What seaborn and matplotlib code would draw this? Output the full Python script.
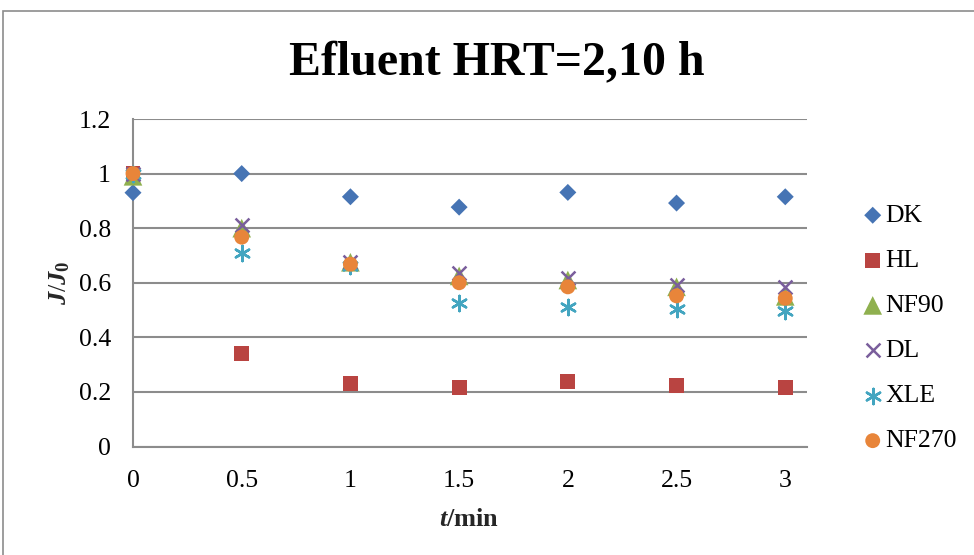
import matplotlib
matplotlib.use("Agg")
import matplotlib.pyplot as plt
import seaborn as sns
import pandas as pd
from matplotlib.patches import Rectangle

sns.set_theme(style="white")
plt.rcParams['font.family'] = ['Liberation Serif', 'DejaVu Serif']
plt.rcParams['text.color'] = 'black'
plt.rcParams['mathtext.fontset'] = 'custom'
plt.rcParams['mathtext.rm'] = 'Liberation Serif'
plt.rcParams['mathtext.it'] = 'Liberation Serif:italic'
plt.rcParams['mathtext.bf'] = 'Liberation Serif:bold'
plt.rcParams['mathtext.bfit'] = 'Liberation Serif:bold:italic'

t = [0, 0.5, 1, 1.5, 2, 2.5, 3]
series_names = ["DK", "HL", "NF90", "DL", "XLE", "NF270"]
DK = [0.93, 1.00, 0.915, 0.877, 0.931, 0.892, 0.915]
HL = [1.00, 0.34, 0.23, 0.215, 0.239, 0.223, 0.215]
NF90 = [0.99, 0.80, 0.675, 0.625, 0.61, 0.585, 0.55]
DL = [1.00, 0.81, 0.675, 0.635, 0.618, 0.59, 0.583]
XLE = [1.00, 0.708, 0.66, 0.527, 0.512, 0.502, 0.497]
NF270 = [1.00, 0.767, 0.668, 0.60, 0.585, 0.552, 0.543]
values = [DK, HL, NF90, DL, XLE, NF270]

colors = ["#4674B4", "#B94441", "#8FB04F", "#7A5E9C", "#43A5C0", "#E8853A"]
markers = ["D", "s", "^", "x", (6, 2, 0), "o"]
sizes = [75, 115, 180, 100, 120, 115]

rows = []
for name, vals in zip(series_names, values):
    for x, y in zip(t, vals):
        rows.append({"t": x, "J": y, "series": name})
df = pd.DataFrame(rows)

fig = plt.figure(figsize=(9.74, 5.55), dpi=100)
ax = fig.add_axes([133/974, 1-446.5/555, (807-133)/974, (446.5-119)/555])

for name, c, m, s in zip(series_names, colors, markers, sizes):
    sub = df[df["series"] == name]
    kw = dict(edgecolor="none") if m not in ("x", (6, 2, 0)) else dict(linewidth=1.8)
    sns.scatterplot(data=sub, x="t", y="J", ax=ax, color=c, marker=m, s=s,
                    label=name, zorder=3, clip_on=False, **kw)

ax.set_xlim(0, 3.1)
ax.set_ylim(0, 1.2)
ax.set_xticks([0, 0.5, 1, 1.5, 2, 2.5, 3])
ax.set_xticklabels(["0", "0.5", "1", "1.5", "2", "2.5", "3"])
ax.set_yticks([0, 0.2, 0.4, 0.6, 0.8, 1.0, 1.2])
ax.set_yticklabels(["0", "0.2", "0.4", "0.6", "0.8", "1", "1.2"])
ax.tick_params(axis='both', labelsize=18.5, length=0, colors="black")
ax.tick_params(axis='x', pad=17)
ax.tick_params(axis='y', pad=16)
ax.yaxis.grid(True, color="#8C8C8C", linewidth=1.5)
ax.xaxis.grid(False)
for sp in ["top", "right"]:
    ax.spines[sp].set_visible(False)
for sp in ["left", "bottom"]:
    ax.spines[sp].set_color("#8C8C8C")
    ax.spines[sp].set_linewidth(1.5)

ax.set_xlabel(r"$\mathbfit{t}$/min", fontsize=19, fontweight="bold")
ax.set_ylabel(r"$\mathbfit{J}/\mathbfit{J}_{\mathbf{0}}$", fontsize=19)
ax.xaxis.set_label_coords((469-133)/(807-133), (446.5-520)/(446.5-119))
ax.yaxis.set_label_coords((60-133)/(807-133), 0.5)
ax.xaxis.label.set_va("center")
ax.yaxis.label.set_va("center")

fig.text(497/974, 1-63/555, "Efluent HRT=2,10 h", ha="center", va="center",
         fontsize=34.5, fontweight="bold")

leg = ax.legend(loc="upper left", bbox_to_anchor=(865/974, 1-204/555),
                bbox_transform=fig.transFigure, frameon=False, fontsize=18.5,
                handletextpad=0.2, labelspacing=0.86, borderaxespad=0,
                borderpad=0, handlelength=0.6, markerscale=1.0)

fig.patches.append(Rectangle((3/974, -0.05), 1.1, 1-11/555+0.05,
                             transform=fig.transFigure, fill=False,
                             edgecolor="#8C8C8C", linewidth=1.2))

fig.savefig("out.png", dpi=100)
